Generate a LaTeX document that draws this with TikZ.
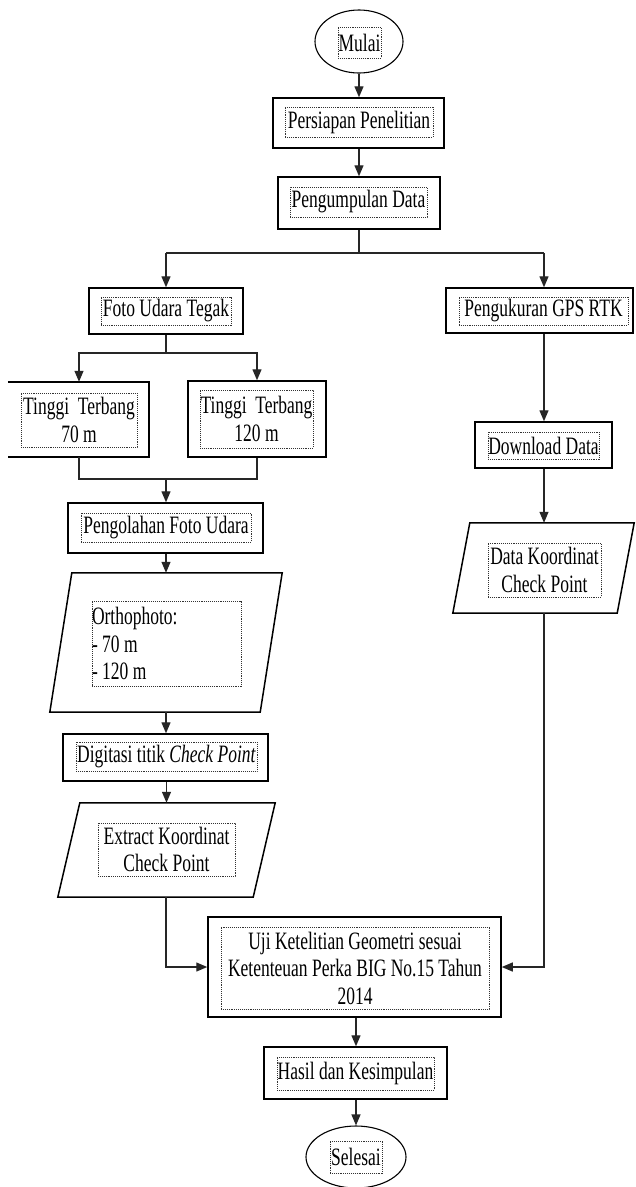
\documentclass[tikz,border=0pt]{standalone}
\usepackage{fontspec}
\setmainfont[FakeStretch=0.70]{Liberation Serif}
\usetikzlibrary{shapes.geometric,arrows.meta,calc}
\begin{document}
\begin{tikzpicture}[x=1pt,y=-1pt,
  box/.style={draw=black, line width=1.5pt, inner sep=0pt, rectangle},
  oval/.style={draw=black, line width=1.1pt, ellipse, inner sep=0pt},
  ghost/.style={draw=none, inner sep=0pt, rectangle},
  edge/.style={draw=black, line width=1.5pt},
  txt/.style={draw=black!80, densely dotted, line width=0.9pt, inner sep=0pt, align=center, font=\fontsize{25}{27.5}\selectfont},
  arr/.style={draw=black!85, line width=1.3pt, -{Triangle[length=11pt,width=9pt]}},
  ln/.style={draw=black!85, line width=1.3pt}]
\useasboundingbox (0,0) rectangle (636,1187);
\fill[white] (0,0) rectangle (636,1187);

% Start
\node[oval, minimum width=88pt, minimum height=63pt] (mulai) at (359,41.5) {};
\node[txt, minimum width=43pt, minimum height=31pt] (tmulai) at (359.5,42.5) {Mulai};

\node[box, minimum width=171pt, minimum height=50pt] (pers) at (358.5,123) {};
\node[txt, minimum width=148pt, minimum height=30pt] (tpers) at (359,122) {Persiapan Penelitian};

\node[box, minimum width=162pt, minimum height=52pt] (peng) at (359,203) {};
\node[txt, minimum width=137pt, minimum height=30pt] (tpeng) at (358.5,202) {Pengumpulan Data};

% left branch
\node[box, minimum width=154pt, minimum height=46pt] (foto) at (166,311) {};
\node[txt, minimum width=130pt, minimum height=28pt] (tfoto) at (166,311) {Foto Udara Tegak};

\node[ghost, minimum width=141pt, minimum height=75pt] (t70) at (78.5,419.5) {};
\draw[edge] (t70.north west) -- (t70.north east) -- (t70.south east) -- (t70.south west);
\node[txt, minimum width=116pt, minimum height=54pt] (tt70) at (79,420) {Tinggi\ \ Terbang\\70 m};

\node[box, minimum width=138pt, minimum height=76pt] (t120) at (257,419) {};
\node[txt, minimum width=113pt, minimum height=58pt] (tt120) at (256.5,419) {Tinggi\ \ Terbang\\120 m};

\node[box, minimum width=195pt, minimum height=50pt] (olah) at (165.5,528) {};
\node[txt, minimum width=170pt, minimum height=29pt] (tolah) at (166,527.5) {Pengolahan Foto Udara};

\node[ghost, minimum width=210pt, minimum height=139pt] (ortho) at (166,642.5) {};
\draw[edge] ($(ortho.north west)+(11,0)$) -- ($(ortho.north east)+(11,0)$) -- ($(ortho.south east)+(-11,0)$) -- ($(ortho.south west)+(-11,0)$) -- cycle;
\node[txt, text width=149pt, align=flush left, minimum height=85pt] (tortho) at (166.5,643.5) {Orthophoto:\\- 70 m\\- 120 m};

\node[box, minimum width=205pt, minimum height=47pt] (dig) at (165.5,757.5) {};
\node[txt, minimum width=181pt, minimum height=29pt] (tdig) at (166.5,756.5) {Digitasi titik \textit{Check Point}};

\node[ghost, minimum width=195pt, minimum height=94pt] (ext) at (166.5,850) {};
\draw[edge] ($(ext.north west)+(11,0)$) -- ($(ext.north east)+(11,0)$) -- ($(ext.south east)+(-11,0)$) -- ($(ext.south west)+(-11,0)$) -- cycle;
\node[txt, minimum width=137pt, minimum height=53pt] (text) at (166.5,849.5) {Extract Koordinat\\Check Point};

% right branch
\node[box, minimum width=187pt, minimum height=45pt] (gps) at (539.5,310.5) {};
\node[txt, minimum width=169pt, minimum height=28pt] (tgps) at (543.5,311) {Pengukuran GPS RTK};

\node[box, minimum width=137pt, minimum height=46pt] (dl) at (543.5,445) {};
\node[txt, minimum width=111pt, minimum height=27pt] (tdl) at (543.5,445.5) {Download Data};

\node[ghost, minimum width=164pt, minimum height=90pt] (dk) at (543.5,568) {};
\draw[edge] ($(dk.north west)+(8.5,0)$) -- ($(dk.north east)+(8.5,0)$) -- ($(dk.south east)+(-8.5,0)$) -- ($(dk.south west)+(-8.5,0)$) -- cycle;
\node[txt, minimum width=113pt, minimum height=54pt] (tdk) at (544.5,570) {Data Koordinat\\Check Point};

% merge
\node[box, minimum width=293pt, minimum height=100pt] (uji) at (354.5,967) {};
\node[txt, minimum width=268pt, minimum height=82pt] (tuji) at (355,968) {Uji Ketelitian Geometri sesuai\\Ketenteuan Perka BIG No.15 Tahun\\2014};

\node[box, minimum width=183pt, minimum height=52pt] (hasil) at (355.5,1073) {};
\node[txt, minimum width=157pt, minimum height=33pt] (thasil) at (355.5,1073.5) {Hasil dan Kesimpulan};

\node[oval, minimum width=100pt, minimum height=62pt] (sel) at (356,1157) {};
\node[txt, minimum width=52pt, minimum height=32pt] (tsel) at (356,1157) {Selesai};

% helper coordinates
\coordinate (br) at (359,253);
\coordinate (brL) at (166,253);
\coordinate (brR) at (544,253);
\coordinate (sp) at (166,353);
\coordinate (mg) at (166,479);

% connectors
\draw[arr] (mulai.south) -- (mulai.south |- pers.north);
\draw[arr] (pers.south -| peng.north) -- (peng.north);
\draw[ln] (peng.south) -- (br);
\draw[ln] (brL) -- (brR);
\draw[arr] (brL) -- (foto.north);
\draw[arr] (brR) -- (brR |- gps.north);
\draw[ln] (foto.south) -- (sp);
\draw[arr] (sp) -| (tt70.center |- t70.north);
\draw[arr] (sp) -| (t120.north);
\draw[ln] (tt70.center |- t70.south) |- (mg);
\draw[ln] (t120.south) |- (mg);
\draw[arr] (mg) -- (olah.north -| mg);
\draw[arr] (olah.south -| ortho.north) -- (ortho.north);
\draw[arr] (ortho.south) -- (ortho.south |- dig.north);
\draw[arr] (dig.south -| ext.north) -- (ext.north);
\draw[arr] (ext.south -| mg) |- (uji.west);
\draw[arr] (brR |- gps.south) -- (brR |- dl.north);
\draw[arr] (brR |- dl.south) -- (brR |- dk.north);
\draw[arr] (brR |- dk.south) |- (uji.east);
\draw[arr] (uji.south -| sel.north) -- (sel.north |- hasil.north);
\draw[arr] (hasil.south -| sel.north) -- (sel.north);
\end{tikzpicture}
\end{document}
